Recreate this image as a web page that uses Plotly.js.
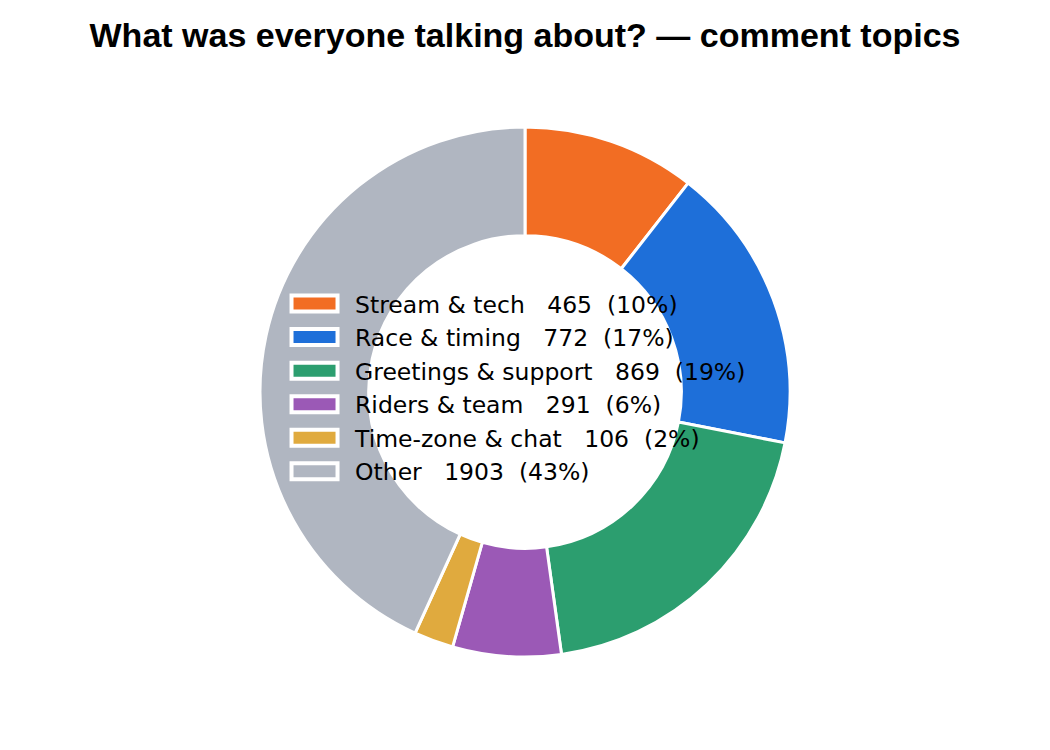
<!DOCTYPE html>
<html>
<head>
<meta charset="utf-8">
<script src="https://cdn.plot.ly/plotly-3.0.1.min.js"></script>
<style>
  html, body { margin: 0; padding: 0; background: #fff; }
  #chart { width: 1050px; height: 750px; }
</style>
</head>
<body>
<div id="chart"></div>
<script>
const topics = ['Stream & tech', 'Race & timing', 'Greetings & support', 'Riders & team', 'Time-zone & chat', 'Other'];
const counts = [465, 772, 869, 291, 106, 1903];
const colors = ['#F26D23', '#1E6FD9', '#2C9E6F', '#9B59B6', '#E0AA3E', '#B0B6C1'];

const total = counts.reduce((a, b) => a + b, 0);
const nb = '\u00A0';
const labels = topics.map((t, i) =>
  `${t}${nb.repeat(3)}${counts[i]}${nb.repeat(2)}(${Math.floor(counts[i] / total * 100)}%)`);

const data = [{
  type: 'pie',
  labels: labels,
  values: counts,
  hole: 0.59,
  sort: false,
  direction: 'clockwise',
  rotation: 0,
  textinfo: 'none',
  hoverinfo: 'label',
  marker: { colors: colors, line: { color: '#ffffff', width: 3 } },
}];

const layout = {
  width: 1050,
  height: 750,
  font: { family: '"DejaVu Sans", sans-serif', color: '#000' },
  title: {
    text: '<b>What was everyone talking about? — comment topics</b>',
    font: { family: '"Liberation Sans", Arial, sans-serif', size: 34, color: '#000' },
    x: 0.5,
    xanchor: 'center',
    y: 0.953,
    yanchor: 'middle',
  },
  margin: { l: 80, r: 80, t: 127, b: 93 },
  showlegend: true,
  legend: {
    x: 0.218,
    y: 0.708,
    xanchor: 'left',
    yanchor: 'top',
    itemwidth: 71,
    font: { size: 23.5, color: '#000' },
    bgcolor: 'rgba(0,0,0,0)',
  },
  paper_bgcolor: '#ffffff',
};

Plotly.newPlot('chart', data, layout, { displayModeBar: false }).then(gd => {
  // wider legend swatches
  gd.querySelectorAll('.legendpoints path.legendpie').forEach(p => {
    p.setAttribute('d', 'M23,8H-23V-8H23Z');
    p.style.strokeWidth = '4px';
  });
});
</script>
</body>
</html>
